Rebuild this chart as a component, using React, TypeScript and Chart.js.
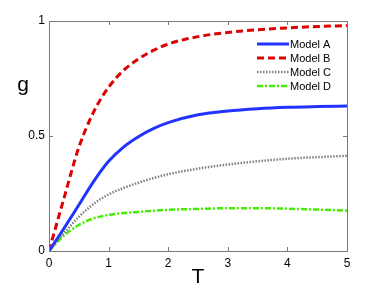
import React, { useEffect, useRef } from "react";
import { Chart, registerables } from "chart.js";

Chart.register(...registerables);

const T = [0, 0.25, 0.5, 0.75, 1, 1.25, 1.5, 1.75, 2, 2.5, 3, 3.5, 4, 4.5, 5];
const modelA = [0, 0.098, 0.2, 0.303, 0.39, 0.452, 0.497, 0.532, 0.558, 0.592, 0.609, 0.619, 0.625, 0.628, 0.63];
const modelB = [0, 0.228, 0.45, 0.605, 0.712, 0.785, 0.835, 0.872, 0.9, 0.932, 0.95, 0.962, 0.97, 0.976, 0.98];
const modelC = [0, 0.077, 0.148, 0.205, 0.246, 0.274, 0.297, 0.317, 0.334, 0.358, 0.376, 0.39, 0.401, 0.408, 0.414];
const modelD = [0, 0.067, 0.113, 0.142, 0.157, 0.165, 0.17, 0.175, 0.179, 0.183, 0.186, 0.186, 0.184, 0.18, 0.176];
const seriesLabels = ["Model A", "Model B", "Model C", "Model D"];
const xTicks = [0, 1, 2, 3, 4, 5];
const yTicks = [0, 0.5, 1];

const FONT = "Liberation Sans, Arial, Helvetica, sans-serif";

const framePlugin = {
  id: "frame",
  afterDraw(chart: any) {
    const { ctx, chartArea, scales } = chart;
    const { left, right, top, bottom } = chartArea;
    const xs = scales.x;
    const ys = scales.y;
    ctx.save();
    ctx.strokeStyle = "#7a7a7a";
    ctx.lineWidth = 1;
    ctx.setLineDash([]);
    ctx.strokeRect(Math.round(left) + 0.5, Math.round(top) + 0.5, Math.round(right - left), Math.round(bottom - top));
    const tl = 4;
    ctx.beginPath();
    xTicks.forEach((v) => {
      const px = Math.round(xs.getPixelForValue(v)) + 0.5;
      ctx.moveTo(px, bottom);
      ctx.lineTo(px, bottom - tl);
      ctx.moveTo(px, top);
      ctx.lineTo(px, top + tl);
    });
    yTicks.forEach((v) => {
      const py = Math.round(ys.getPixelForValue(v)) + 0.5;
      ctx.moveTo(left, py);
      ctx.lineTo(left + tl, py);
      ctx.moveTo(right, py);
      ctx.lineTo(right - tl, py);
    });
    ctx.stroke();

    // axis titles
    ctx.fillStyle = "#000";
    ctx.font = `21px ${FONT}`;
    ctx.textAlign = "center";
    ctx.textBaseline = "alphabetic";
    ctx.fillText("T", (left + right) / 2, 283);
    ctx.fillText("g", 23, 91);

    // legend
    const lx0 = 257;
    const lx1 = 289;
    const rows = [44, 58, 72, 86];
    ctx.font = `11px ${FONT}`;
    ctx.textAlign = "left";
    ctx.textBaseline = "middle";
    chart.data.datasets.forEach((ds: any, i: number) => {
      const yy = rows[i];
      ctx.save();
      ctx.strokeStyle = ds.borderColor;
      ctx.lineWidth = ds.borderWidth;
      ctx.setLineDash(ds.borderDash || []);
      ctx.beginPath();
      ctx.moveTo(lx0, yy);
      ctx.lineTo(lx1, yy);
      ctx.stroke();
      ctx.restore();
      ctx.fillStyle = "#000";
      ctx.fillText(ds.label, lx1 + 1, yy + 0.5);
    });
    ctx.restore();
  },
};

function pts(vals: number[]) {
  return T.map((t, i) => ({ x: t, y: vals[i] }));
}

export default function App() {
  const ref = useRef<HTMLCanvasElement>(null);
  useEffect(() => {
    document.body.style.margin = "0";
    const canvas = ref.current!;
    const common = { pointRadius: 0, cubicInterpolationMode: "monotone" as const, fill: false };
    const chart = new Chart(canvas, {
      type: "line",
      data: {
        datasets: [
          { label: seriesLabels[0], data: pts(modelA), borderColor: "#2233ff", borderWidth: 3, ...common },
          { label: seriesLabels[1], data: pts(modelB), borderColor: "#dd0000", borderWidth: 3, borderDash: [7, 4], ...common },
          { label: seriesLabels[2], data: pts(modelC), borderColor: "#808080", borderWidth: 2.5, borderDash: [1.5, 1.5], ...common },
          { label: seriesLabels[3], data: pts(modelD), borderColor: "#44ee00", borderWidth: 2.5, borderDash: [6, 2, 2, 2], ...common },
        ],
      },
      options: {
        responsive: false,
        animation: false,
        layout: { padding: { left: 0, right: 36, top: 21, bottom: 0 } },
        plugins: { legend: { display: false }, tooltip: { enabled: false }, title: { display: false } },
        scales: {
          x: {
            type: "linear",
            min: 0,
            max: 5,
            afterFit: (s: any) => { s.height = 37; },
            afterBuildTicks: (s: any) => { s.ticks = xTicks.map((v) => ({ value: v })); },
            grid: { display: false, drawTicks: false },
            border: { display: false },
            ticks: { color: "#000", padding: 5, maxRotation: 0, font: { size: 12, family: FONT }, callback: (v: any) => String(v) },
          },
          y: {
            type: "linear",
            min: 0,
            max: 1,
            afterFit: (s: any) => { s.width = 49; },
            afterBuildTicks: (s: any) => { s.ticks = yTicks.map((v) => ({ value: v })); },
            grid: { display: false, drawTicks: false },
            border: { display: false },
            ticks: { color: "#000", padding: 4, font: { size: 12, family: FONT }, callback: (v: any) => String(v) },
          },
        },
      },
      plugins: [framePlugin],
    });
    return () => chart.destroy();
  }, []);
  return (
    <div style={{ position: "absolute", left: 0, top: 0, width: 383, height: 288, background: "#fff" }}>
      <canvas ref={ref} width={383} height={288} />
    </div>
  );
}
